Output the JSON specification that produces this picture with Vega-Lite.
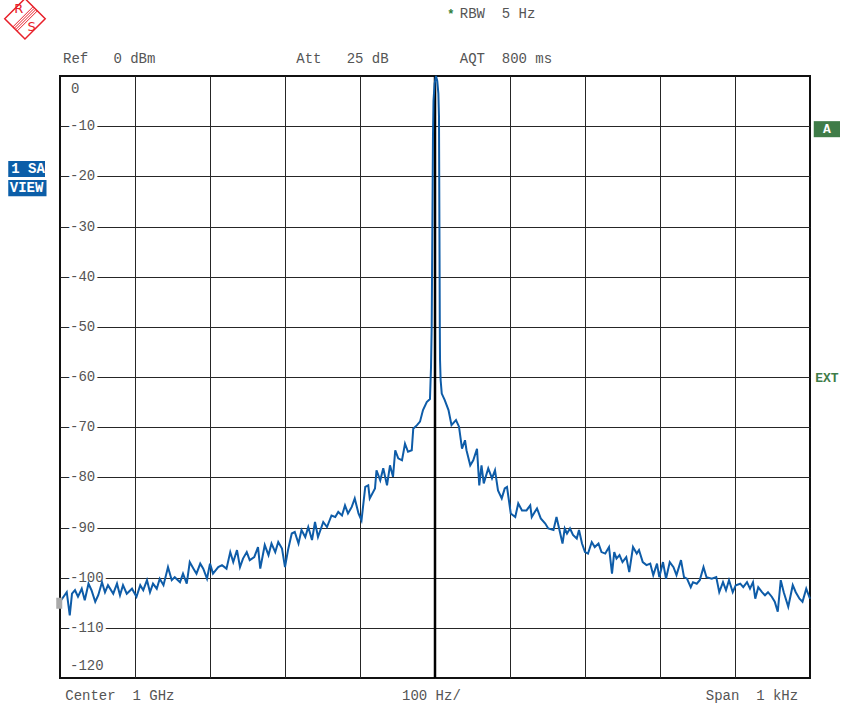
{
  "$schema": "https://vega.github.io/schema/vega-lite/v6.json",
  "width": 750,
  "height": 602,
  "autosize": "none",
  "padding": {"left": 60, "top": 76, "right": 37, "bottom": 32},
  "background": "white",
  "config": {
    "view": {"stroke": "#111", "strokeWidth": 2},
    "axis": {"domain": false, "ticks": false, "labels": false, "title": null, "grid": true, "gridColor": "#262626", "gridWidth": 1, "gridOpacity": 1}
  },
  "datasets": {
    "one": [{}],
    "hatch": [
      {"f1": -562.8, "f2": -536.1, "d1": 9.79, "d2": 13.78},
      {"f1": -561.0, "f2": -534.3, "d1": 9.51, "d2": 13.5},
      {"f1": -559.1, "f2": -532.4, "d1": 9.23, "d2": 13.22},
      {"f1": -557.2, "f2": -530.5, "d1": 8.95, "d2": 12.94}
    ],
    "trace": [
      {"f": -500, "db": -104.8}, {"f": -491, "db": -102.9}, {"f": -487, "db": -107.5}, {"f": -484, "db": -103.2},
      {"f": -480, "db": -102.5}, {"f": -476, "db": -103.8}, {"f": -471, "db": -102.2}, {"f": -467, "db": -104.5},
      {"f": -462, "db": -101.2}, {"f": -458, "db": -102.5}, {"f": -453, "db": -104.8}, {"f": -449, "db": -103.5},
      {"f": -444, "db": -100.9}, {"f": -440, "db": -102.9}, {"f": -436, "db": -101.5}, {"f": -429, "db": -103.2},
      {"f": -424, "db": -101.2}, {"f": -420, "db": -103.5}, {"f": -416, "db": -101.5}, {"f": -411, "db": -103.2},
      {"f": -404, "db": -102.2}, {"f": -398, "db": -103.8}, {"f": -393, "db": -101.5}, {"f": -389, "db": -102.5},
      {"f": -384, "db": -100.5}, {"f": -380, "db": -102.9}, {"f": -376, "db": -101.2}, {"f": -371, "db": -102.2},
      {"f": -367, "db": -100.2}, {"f": -362, "db": -101.5}, {"f": -356, "db": -97.9}, {"f": -351, "db": -100.5},
      {"f": -347, "db": -99.9}, {"f": -340, "db": -100.9}, {"f": -336, "db": -99.2}, {"f": -331, "db": -101.2},
      {"f": -327, "db": -96.9}, {"f": -322, "db": -98.2}, {"f": -318, "db": -99.2}, {"f": -313, "db": -97.2},
      {"f": -309, "db": -98.2}, {"f": -304, "db": -100.2}, {"f": -300, "db": -97.2}, {"f": -296, "db": -99.2},
      {"f": -289, "db": -97.9}, {"f": -284, "db": -97.5}, {"f": -278, "db": -98.2}, {"f": -273, "db": -94.9},
      {"f": -269, "db": -96.9}, {"f": -264, "db": -94.5}, {"f": -260, "db": -97.9}, {"f": -256, "db": -96.2},
      {"f": -251, "db": -94.9}, {"f": -247, "db": -96.5}, {"f": -241, "db": -95.9}, {"f": -236, "db": -93.9},
      {"f": -233, "db": -98.2}, {"f": -227, "db": -93.5}, {"f": -222, "db": -95.5}, {"f": -218, "db": -93.2},
      {"f": -213, "db": -94.9}, {"f": -209, "db": -92.9}, {"f": -204, "db": -94.2}, {"f": -200, "db": -97.9},
      {"f": -196, "db": -94.5}, {"f": -191, "db": -91.2}, {"f": -187, "db": -90.9}, {"f": -182, "db": -93.2},
      {"f": -178, "db": -90.5}, {"f": -173, "db": -91.9}, {"f": -169, "db": -89.9}, {"f": -164, "db": -92.5},
      {"f": -160, "db": -88.9}, {"f": -156, "db": -91.9}, {"f": -149, "db": -88.9}, {"f": -144, "db": -89.9},
      {"f": -138, "db": -87.6}, {"f": -133, "db": -87.9}, {"f": -129, "db": -86.9}, {"f": -124, "db": -87.6},
      {"f": -120, "db": -85.6}, {"f": -116, "db": -87.2}, {"f": -111, "db": -85.9}, {"f": -107, "db": -84.2},
      {"f": -102, "db": -87.2}, {"f": -98, "db": -88.6}, {"f": -93, "db": -81.9}, {"f": -89, "db": -81.6},
      {"f": -87, "db": -84.2}, {"f": -80, "db": -82.2}, {"f": -78, "db": -78.6}, {"f": -73, "db": -80.6},
      {"f": -69, "db": -78.2}, {"f": -64, "db": -81.6}, {"f": -60, "db": -77.6}, {"f": -56, "db": -79.9},
      {"f": -53, "db": -74.6}, {"f": -49, "db": -76.2}, {"f": -44, "db": -76.6}, {"f": -40, "db": -73.3},
      {"f": -36, "db": -74.9}, {"f": -31, "db": -74.6}, {"f": -29, "db": -70.3}, {"f": -24, "db": -69.6},
      {"f": -20, "db": -68.9}, {"f": -16, "db": -66.6}, {"f": -11, "db": -65.0}, {"f": -6.7, "db": -64.4},
      {"f": -5.3, "db": -58}, {"f": -4.4, "db": -50}, {"f": -3.5, "db": -30}, {"f": -2.7, "db": -12},
      {"f": -2, "db": -5}, {"f": -0.5, "db": -1.5}, {"f": 1.3, "db": 0}, {"f": 3, "db": -1},
      {"f": 4.5, "db": -3.5}, {"f": 5.3, "db": -8}, {"f": 5.9, "db": -30}, {"f": 6.4, "db": -50},
      {"f": 6.7, "db": -56.6}, {"f": 7.5, "db": -60.6}, {"f": 9, "db": -63.3}, {"f": 13, "db": -64.6},
      {"f": 18, "db": -66.6}, {"f": 22, "db": -69.6}, {"f": 28, "db": -68.6}, {"f": 32, "db": -69.9},
      {"f": 36, "db": -74.3}, {"f": 40, "db": -72.6}, {"f": 42, "db": -74.6}, {"f": 47, "db": -77.6},
      {"f": 51, "db": -76.6}, {"f": 56, "db": -74.3}, {"f": 59, "db": -81.6}, {"f": 62, "db": -77.6},
      {"f": 65, "db": -81.2}, {"f": 71, "db": -78.2}, {"f": 76, "db": -80.2}, {"f": 80, "db": -78.6},
      {"f": 84, "db": -82.6}, {"f": 89, "db": -84.2}, {"f": 93, "db": -82.2}, {"f": 96, "db": -81.9},
      {"f": 101, "db": -87.2}, {"f": 107, "db": -87.9}, {"f": 111, "db": -85.2}, {"f": 116, "db": -86.6},
      {"f": 122, "db": -86.6}, {"f": 127, "db": -85.6}, {"f": 129, "db": -87.9}, {"f": 133, "db": -86.9},
      {"f": 136, "db": -86.2}, {"f": 141, "db": -88.2}, {"f": 147, "db": -89.2}, {"f": 151, "db": -90.2},
      {"f": 158, "db": -90.5}, {"f": 162, "db": -87.9}, {"f": 167, "db": -91.2}, {"f": 170, "db": -93.2},
      {"f": 173, "db": -90.2}, {"f": 176, "db": -91.2}, {"f": 180, "db": -90.2}, {"f": 184, "db": -91.5},
      {"f": 189, "db": -92.2}, {"f": 192, "db": -90.5}, {"f": 196, "db": -93.2}, {"f": 200, "db": -94.9},
      {"f": 204, "db": -95.2}, {"f": 209, "db": -92.9}, {"f": 213, "db": -93.9}, {"f": 218, "db": -93.2},
      {"f": 222, "db": -94.9}, {"f": 227, "db": -95.2}, {"f": 232, "db": -93.9}, {"f": 236, "db": -99.2},
      {"f": 239, "db": -94.9}, {"f": 242, "db": -96.2}, {"f": 246, "db": -95.5}, {"f": 250, "db": -96.9},
      {"f": 255, "db": -95.9}, {"f": 259, "db": -98.9}, {"f": 264, "db": -93.9}, {"f": 269, "db": -95.2},
      {"f": 272, "db": -94.5}, {"f": 277, "db": -96.9}, {"f": 282, "db": -97.5}, {"f": 287, "db": -97.2},
      {"f": 291, "db": -99.5}, {"f": 296, "db": -97.2}, {"f": 299, "db": -99.9}, {"f": 304, "db": -96.9},
      {"f": 308, "db": -100.2}, {"f": 313, "db": -96.9}, {"f": 318, "db": -97.9}, {"f": 322, "db": -99.5},
      {"f": 328, "db": -96.5}, {"f": 332, "db": -99.9}, {"f": 336, "db": -100.2}, {"f": 341, "db": -101.9},
      {"f": 344, "db": -100.9}, {"f": 349, "db": -101.2}, {"f": 353, "db": -100.5}, {"f": 358, "db": -97.9},
      {"f": 362, "db": -99.9}, {"f": 369, "db": -100.2}, {"f": 375, "db": -99.9}, {"f": 379, "db": -102.9},
      {"f": 384, "db": -100.9}, {"f": 388, "db": -102.5}, {"f": 392, "db": -100.5}, {"f": 397, "db": -102.9},
      {"f": 401, "db": -101.5}, {"f": 407, "db": -101.2}, {"f": 411, "db": -101.9}, {"f": 416, "db": -100.9},
      {"f": 420, "db": -102.2}, {"f": 424, "db": -100.9}, {"f": 427, "db": -104.2}, {"f": 431, "db": -101.9},
      {"f": 436, "db": -102.9}, {"f": 440, "db": -103.5}, {"f": 444, "db": -102.9}, {"f": 449, "db": -103.8},
      {"f": 453, "db": -104.8}, {"f": 457, "db": -106.8}, {"f": 461, "db": -100.5}, {"f": 465, "db": -102.9},
      {"f": 471, "db": -105.8}, {"f": 477, "db": -101.5}, {"f": 481, "db": -102.9}, {"f": 486, "db": -104.2},
      {"f": 490, "db": -104.8}, {"f": 495, "db": -102.2}, {"f": 500, "db": -104.2}
    ],
    "ylab": [
      {"db": 0, "label": "0"}, {"db": -10, "label": "-10"}, {"db": -20, "label": "-20"}, {"db": -30, "label": "-30"},
      {"db": -40, "label": "-40"}, {"db": -50, "label": "-50"}, {"db": -60, "label": "-60"}, {"db": -70, "label": "-70"},
      {"db": -80, "label": "-80"}, {"db": -90, "label": "-90"}, {"db": -100, "label": "-100"}, {"db": -110, "label": "-110"},
      {"db": -120, "label": "-120"}
    ]
  },
  "layer": [
    {
      "data": {"name": "trace"},
      "mark": {"type": "line", "color": "#0e5ca8", "strokeWidth": 2, "opacity": 0},
      "encoding": {
        "x": {"field": "f", "type": "quantitative", "scale": {"domain": [-500, 500], "nice": false, "zero": false},
          "axis": {"values": [-400, -300, -200, -100, 0, 100, 200, 300, 400], "grid": true, "labels": false, "ticks": false, "domain": false, "title": null}},
        "y": {"field": "db", "type": "quantitative", "scale": {"domain": [-120, 0], "nice": false, "zero": false},
          "axis": {"values": [-110, -100, -90, -80, -70, -60, -50, -40, -30, -20, -10], "grid": true, "labels": false, "ticks": false, "domain": false, "title": null}}
      }
    },
    {
      "data": {"name": "one"},
      "mark": {"type": "rule", "color": "#000", "strokeWidth": 2.5},
      "encoding": {"x": {"datum": 0, "type": "quantitative"}}
    },
    {
      "data": {"name": "ylab"},
      "transform": [{"filter": "datum.db < 0 && datum.db > -120"}],
      "mark": {"type": "text", "align": "left", "baseline": "middle", "dx": 10, "font": "Liberation Mono", "fontSize": 14, "fill": "white", "stroke": "white", "strokeWidth": 6},
      "encoding": {"x": {"datum": -500, "type": "quantitative"}, "y": {"field": "db", "type": "quantitative"}, "text": {"field": "label"}}
    },
    {
      "data": {"name": "ylab"},
      "transform": [{"filter": "datum.db < 0 && datum.db > -120"}],
      "mark": {"type": "text", "align": "left", "baseline": "middle", "dx": 10, "font": "Liberation Mono", "fontSize": 14, "fill": "#555"},
      "encoding": {"x": {"datum": -500, "type": "quantitative"}, "y": {"field": "db", "type": "quantitative"}, "text": {"field": "label"}}
    },
    {
      "data": {"name": "ylab"},
      "transform": [{"filter": "datum.db == 0"}],
      "mark": {"type": "text", "align": "left", "baseline": "middle", "dx": 11, "dy": 13, "font": "Liberation Mono", "fontSize": 14, "fill": "#555"},
      "encoding": {"x": {"datum": -500, "type": "quantitative"}, "y": {"field": "db", "type": "quantitative"}, "text": {"field": "label"}}
    },
    {
      "data": {"name": "ylab"},
      "transform": [{"filter": "datum.db == -120"}],
      "mark": {"type": "text", "align": "left", "baseline": "middle", "dx": 10, "dy": -12, "font": "Liberation Mono", "fontSize": 14, "fill": "#555"},
      "encoding": {"x": {"datum": -500, "type": "quantitative"}, "y": {"field": "db", "type": "quantitative"}, "text": {"field": "label"}}
    },
    {
      "data": {"name": "trace"},
      "mark": {"type": "line", "color": "#0e5ca8", "strokeWidth": 2, "interpolate": "linear"},
      "encoding": {"x": {"field": "f", "type": "quantitative"}, "y": {"field": "db", "type": "quantitative"}}
    },
    {
      "data": {"name": "one"},
      "mark": {"type": "rect", "fill": "#aaaaaa"},
      "encoding": {"x": {"datum": -505, "type": "quantitative"}, "x2": {"datum": -497}, "y": {"datum": -104.0, "type": "quantitative"}, "y2": {"datum": -106.2}}
    },
    {
      "data": {"name": "one"},
      "mark": {"type": "text", "align": "left", "baseline": "middle", "font": "Liberation Mono", "fontSize": 14, "fill": "#555", "text": "Ref\u00a0\u00a0\u00a00\u00a0dBm"},
      "encoding": {"x": {"datum": -496, "type": "quantitative"}, "y": {"datum": 3.4, "type": "quantitative"}}
    },
    {
      "data": {"name": "one"},
      "mark": {"type": "text", "align": "left", "baseline": "middle", "font": "Liberation Mono", "fontSize": 14, "fill": "#555", "text": "Att\u00a0\u00a0\u00a025\u00a0dB"},
      "encoding": {"x": {"datum": -185, "type": "quantitative"}, "y": {"datum": 3.4, "type": "quantitative"}}
    },
    {
      "data": {"name": "one"},
      "mark": {"type": "text", "align": "left", "baseline": "middle", "font": "Liberation Mono", "fontSize": 14, "fill": "#555", "text": "AQT\u00a0\u00a0800\u00a0ms"},
      "encoding": {"x": {"datum": 33, "type": "quantitative"}, "y": {"datum": 3.4, "type": "quantitative"}}
    },
    {
      "data": {"name": "one"},
      "mark": {"type": "text", "align": "left", "baseline": "middle", "font": "Liberation Mono", "fontSize": 14, "fill": "#555", "text": "RBW\u00a0\u00a05\u00a0Hz"},
      "encoding": {"x": {"datum": 33, "type": "quantitative"}, "y": {"datum": 12.4, "type": "quantitative"}}
    },
    {
      "data": {"name": "one"},
      "mark": {"type": "text", "align": "center", "baseline": "middle", "font": "Liberation Mono", "fontSize": 12, "fontWeight": "bold", "fill": "#2e7d3a", "text": "*"},
      "encoding": {"x": {"datum": 21, "type": "quantitative"}, "y": {"datum": 12.4, "type": "quantitative"}}
    },
    {
      "data": {"name": "one"},
      "mark": {"type": "text", "align": "left", "baseline": "middle", "font": "Liberation Mono", "fontSize": 14, "fill": "#555", "text": "Center\u00a0\u00a01\u00a0GHz"},
      "encoding": {"x": {"datum": -493, "type": "quantitative"}, "y": {"datum": -123.5, "type": "quantitative"}}
    },
    {
      "data": {"name": "one"},
      "mark": {"type": "text", "align": "left", "baseline": "middle", "font": "Liberation Mono", "fontSize": 14, "fill": "#555", "text": "100\u00a0Hz/"},
      "encoding": {"x": {"datum": -44, "type": "quantitative"}, "y": {"datum": -123.5, "type": "quantitative"}}
    },
    {
      "data": {"name": "one"},
      "mark": {"type": "text", "align": "left", "baseline": "middle", "font": "Liberation Mono", "fontSize": 14, "fill": "#555", "text": "Span\u00a0\u00a01\u00a0kHz"},
      "encoding": {"x": {"datum": 361, "type": "quantitative"}, "y": {"datum": -123.5, "type": "quantitative"}}
    },
    {
      "data": {"name": "one"},
      "mark": {"type": "rect", "fill": "#0b5ea8"},
      "encoding": {"x": {"datum": -569, "type": "quantitative"}, "x2": {"datum": -520}, "y": {"datum": -16.95, "type": "quantitative"}, "y2": {"datum": -20.15}}
    },
    {
      "data": {"name": "one"},
      "mark": {"type": "rect", "fill": "#0b5ea8"},
      "encoding": {"x": {"datum": -569, "type": "quantitative"}, "x2": {"datum": -518}, "y": {"datum": -20.75, "type": "quantitative"}, "y2": {"datum": -23.95}}
    },
    {
      "data": {"name": "one"},
      "mark": {"type": "text", "align": "left", "baseline": "middle", "font": "Liberation Mono", "fontSize": 14, "fontWeight": "bold", "fill": "white", "text": "1\u00a0SA"},
      "encoding": {"x": {"datum": -565, "type": "quantitative"}, "y": {"datum": -18.55, "type": "quantitative"}}
    },
    {
      "data": {"name": "one"},
      "mark": {"type": "text", "align": "left", "baseline": "middle", "font": "Liberation Mono", "fontSize": 14, "fontWeight": "bold", "fill": "white", "text": "VIEW"},
      "encoding": {"x": {"datum": -567, "type": "quantitative"}, "y": {"datum": -22.35, "type": "quantitative"}}
    },
    {
      "data": {"name": "one"},
      "mark": {"type": "rect", "fill": "#3f7c48"},
      "encoding": {"x": {"datum": 505, "type": "quantitative"}, "x2": {"datum": 540}, "y": {"datum": -9.0, "type": "quantitative"}, "y2": {"datum": -12.2}}
    },
    {
      "data": {"name": "one"},
      "mark": {"type": "text", "align": "center", "baseline": "middle", "font": "Liberation Mono", "fontSize": 13, "fontWeight": "bold", "fill": "white", "text": "A"},
      "encoding": {"x": {"datum": 522.5, "type": "quantitative"}, "y": {"datum": -10.6, "type": "quantitative"}}
    },
    {
      "data": {"name": "one"},
      "mark": {"type": "text", "align": "left", "baseline": "middle", "font": "Liberation Mono", "fontSize": 13, "fontWeight": "bold", "fill": "#3f7c48", "text": "EXT"},
      "encoding": {"x": {"datum": 507, "type": "quantitative"}, "y": {"datum": -60.2, "type": "quantitative"}}
    },
    {
      "data": {"name": "one"},
      "mark": {"type": "point", "shape": "diamond", "size": 1640, "filled": true, "fill": "white", "stroke": "#e8202a", "strokeWidth": 1.5, "opacity": 1},
      "encoding": {"x": {"datum": -546.7, "type": "quantitative"}, "y": {"datum": 11.4, "type": "quantitative"}}
    },
    {
      "data": {"name": "hatch"},
      "mark": {"type": "rule", "color": "#e8202a", "strokeWidth": 1},
      "encoding": {"x": {"field": "f1", "type": "quantitative"}, "x2": {"field": "f2"}, "y": {"field": "d1", "type": "quantitative"}, "y2": {"field": "d2"}}
    },
    {
      "data": {"name": "one"},
      "mark": {"type": "text", "align": "center", "baseline": "middle", "font": "DejaVu Sans", "fontSize": 13, "fill": "#e8202a", "text": "R"},
      "encoding": {"x": {"datum": -555, "type": "quantitative"}, "y": {"datum": 13.4, "type": "quantitative"}}
    },
    {
      "data": {"name": "one"},
      "mark": {"type": "text", "align": "center", "baseline": "middle", "font": "DejaVu Sans", "fontSize": 13, "fill": "#e8202a", "text": "S"},
      "encoding": {"x": {"datum": -538, "type": "quantitative"}, "y": {"datum": 9.8, "type": "quantitative"}}
    }
  ]
}
